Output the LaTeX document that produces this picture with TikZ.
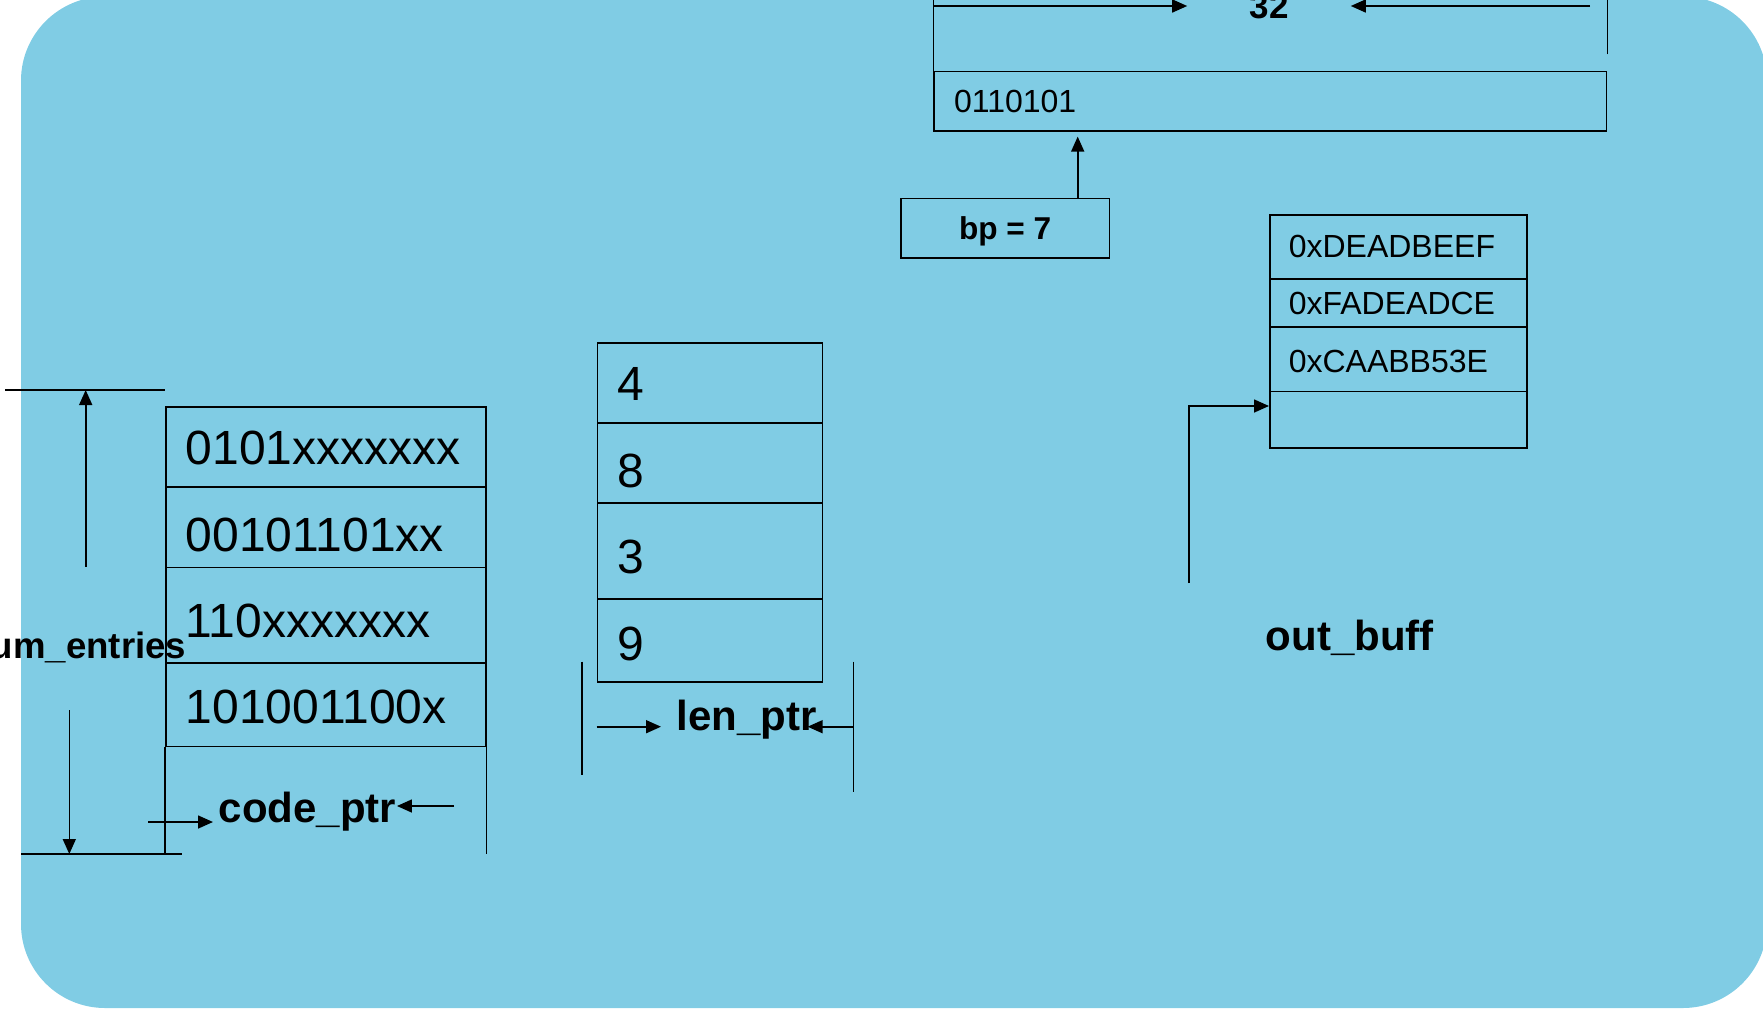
\documentclass[tikz,border=0pt]{standalone}
\usepackage{fontspec}
\setmainfont{Liberation Sans}
\usetikzlibrary{arrows.meta}
\definecolor{bgblue}{RGB}{128,204,228}
\begin{document}
\begin{tikzpicture}[x=0.5pt,y=-0.5pt,line width=0.8pt,
  arr/.style={-{Triangle[length=7.5pt,width=6.5pt]}},
  fbig/.style={font=\fontsize{24pt}{28pt}\selectfont},
  fmid/.style={font=\fontsize{16pt}{19pt}\selectfont},
  flbl/.style={font=\bfseries\fontsize{21pt}{25pt}\selectfont, inner sep=0pt},
  codecell/.style={draw, fbig, anchor=north west, text width=140pt, align=left, inner xsep=10pt, inner ysep=0pt, text depth=0pt},
  lencell/.style={draw, fbig, anchor=north west, text width=92.5pt, align=left, inner xsep=10pt, inner ysep=0pt, text depth=0pt},
  obcell/.style={draw, fmid, anchor=north west, text width=109.5pt, align=left, inner xsep=9.5pt, inner ysep=0pt, text depth=0pt}]
\useasboundingbox (0,0) rectangle (1763,1013);
\clip (0,0) rectangle (1763,1013);
\fill[bgblue, rounded corners=42pt] (21,-3.4) rectangle (1767,1008);

% register
\node[draw, fmid, anchor=north west, text width=316.2pt, align=left, inner xsep=10pt, inner ysep=0pt, minimum height=29.65pt] (reg) at (933.3,70.7) {0110101};
\node[font=\bfseries\fontsize{17.5pt}{21pt}\selectfont, inner sep=0pt, minimum width=81pt] (n32) at (1269,6) {32};
\draw (reg.north west) -- ++(0,-76);
\draw (reg.north east) ++(0,-16.4) -- ++(0,-60);
\coordinate (r32) at (1590,6);
\draw[arr] (reg.west |- n32.west) -- (n32.west);
\draw[arr] (r32) -- (n32.east);

% bp
\node[draw, font=\bfseries\fontsize{15.8pt}{19pt}\selectfont, minimum width=104.2pt, minimum height=29.7pt, inner sep=0pt, text height=11.3pt, text depth=0pt] (bp) at (1005.2,228) {bp = 7};
\coordinate (bpx) at (1077.7,0);
\draw[arr, shorten >=2.5pt] (bp.north -| bpx) -- (reg.south -| bpx);

% out_buff
\node[obcell, minimum height=32.15pt, text height=10.1pt] (o1) at (1269,214) {0xDEADBEEF};
\node[obcell, minimum height=24pt, text height=11.7pt] (o2) at (1269,278.3) {0xFADEADCE};
\node[obcell, minimum height=32.2pt, text height=13.5pt] (o3) at (1269,326.3) {0xCAABB53E};
\node[obcell, minimum height=28.15pt] (o4) at (1269,390.7) {};
\coordinate (obStart) at (1189,583);
\coordinate (obY) at (0,406);
\draw[arr] (obStart) |- (o4.west |- obY);
\node[flbl, anchor=base west] (outbuff) at (1265,650) {out\_buff};

% code table
\node[codecell, minimum height=40pt, text height=18pt] (c1) at (165,406) {0101xxxxxxx};
\node[codecell, minimum height=40.35pt, text height=24.65pt] (c2) at (165,486) {00101101xx};
\node[codecell, minimum height=47.8pt, text height=22.2pt] (c3) at (165,566.7) {110xxxxxxx};
\node[codecell, minimum height=41.7pt, text height=19pt] (c4) at (165,662.3) {101001100x};
\coordinate (neTop) at (5,390);
\coordinate (neBot) at (21,854);
\coordinate (neBotEnd) at (182,854);
\draw (neTop) -- (neTop -| c1.west);
\draw (neBot) -- (neBotEnd);
\draw (c4.south west) -- (c4.south west |- neBot);
\draw (c4.south east) -- (c4.south east |- neBot);
\coordinate (neUp) at (85.7,566.7);
\coordinate (neDn) at (69.3,710);
\draw[arr] (neUp) -- (neUp |- neTop);
\draw[arr] (neDn) -- (neDn |- neBot);
\node[font=\bfseries\fontsize{18.3pt}{22pt}\selectfont, inner sep=0pt, anchor=base east] (nument) at (187,658) {um\_entries};

\node[flbl, anchor=base west] (codeptr) at (218,822) {code\_ptr};
\coordinate (cpL) at (148,822);
\coordinate (cpR) at (454,806);
\draw[arr, shorten >=2.5pt] (cpL) -- (cpL -| codeptr.west);
\draw[arr] (cpR) -- (cpR -| codeptr.east);

% len table
\node[lencell, minimum height=40pt, text height=17.7pt] (l1) at (596.7,342.3) {4};
\node[lencell, minimum height=40pt, text height=24.4pt] (l2) at (596.7,422.3) {8};
\node[lencell, minimum height=48pt, text height=22.4pt] (l3) at (596.7,502.3) {3};
\node[lencell, minimum height=41.35pt, text height=20.3pt] (l4) at (596.7,598.3) {9};
\coordinate (lsLa) at (581.7,661.7);
\coordinate (lsLb) at (581.7,775);
\coordinate (lsRa) at (853.3,661.7);
\coordinate (lsRb) at (853.3,791.7);
\draw (lsLa) -- (lsLb);
\draw (lsRa) -- (lsRb);
\node[flbl, anchor=base west] (lenptr) at (676,730) {len\_ptr};
\coordinate (lpL) at (596.7,726.7);
\coordinate (lpR) at (853.3,726.7);
\draw[arr, shorten >=7.5pt] (lpL) -- (lpL -| lenptr.west);
\draw[arr, shorten >=-5pt] (lpR) -- (lpR -| lenptr.east);
\end{tikzpicture}
\end{document}
